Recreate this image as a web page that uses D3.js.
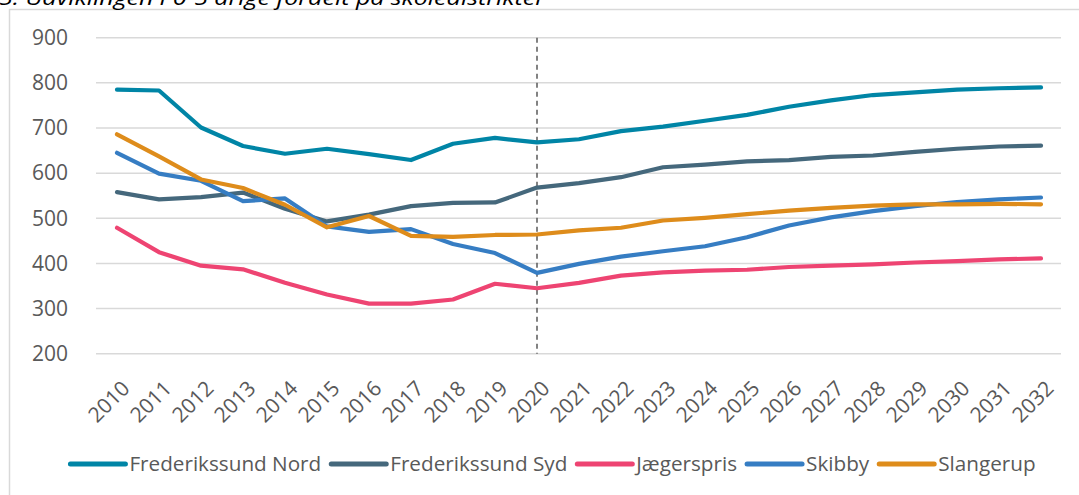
<!DOCTYPE html>
<html>
<head>
<meta charset="utf-8">
<script src="https://cdn.jsdelivr.net/npm/d3@7"></script>
<style>
  html, body { margin: 0; padding: 0; background: #fff; }
  svg { display: block; }
  text { font-family: "Open Sans", sans-serif; }
</style>
</head>
<body>
<svg id="chart" width="1079" height="495"></svg>
<script>
const titleText = "5. Udviklingen i 0-5 årige fordelt på skoledistrikter";
const years = ["2010","2011","2012","2013","2014","2015","2016","2017","2018","2019","2020","2021","2022","2023","2024","2025","2026","2027","2028","2029","2030","2031","2032"];
const yTicks = [200, 300, 400, 500, 600, 700, 800, 900];
const seriesNames = ["Frederikssund Nord", "Frederikssund Syd", "Jægerspris", "Skibby", "Slangerup"];
const seriesColors = ["#0085a6", "#45687c", "#ee4472", "#367dc3", "#de8c1b"];
const frederikssundNord = [785, 783, 701, 660, 643, 654, 642, 629, 665, 678, 668, 675, 693, 703, 716, 729, 747, 761, 773, 779, 785, 788, 790];
const frederikssundSyd  = [558, 542, 547, 557, 521, 493, 508, 527, 534, 535, 568, 578, 591, 613, 619, 626, 629, 636, 639, 647, 654, 659, 661];
const jaegerspris       = [479, 425, 395, 387, 357, 331, 311, 311, 320, 355, 345, 357, 373, 380, 384, 386, 392, 395, 398, 402, 405, 409, 411];
const skibby            = [645, 599, 583, 538, 544, 482, 470, 476, 443, 423, 379, 399, 415, 427, 438, 458, 484, 502, 516, 527, 536, 542, 546];
const slangerup         = [686, 637, 586, 567, 530, 480, 505, 461, 459, 463, 464, 473, 479, 495, 501, 509, 517, 523, 528, 531, 531, 532, 531];
const forecastStart = "2020";

const seriesValues = [frederikssundNord, frederikssundSyd, jaegerspris, skibby, slangerup];
const series = seriesNames.map((name, i) => ({ name, color: seriesColors[i], values: seriesValues[i] }));

const svg = d3.select("#chart");
const W = 1079, H = 495;
const plot = { left: 96, right: 1062, top: 37.7, bottom: 353.7 };

// outer frame
svg.append("rect")
  .attr("x", 9.5).attr("y", 9.5)
  .attr("width", W + 20).attr("height", H + 20)
  .attr("fill", "none").attr("stroke", "#d9d9d9").attr("stroke-width", 1.5);

// title (partially cut off at the top, as in the source)
svg.append("text")
  .attr("x", -1).attr("y", 5)
  .attr("font-size", 20).attr("font-style", "italic").attr("fill", "#000")
  .attr("textLength", 546).attr("lengthAdjust", "spacingAndGlyphs")
  .text(titleText);

const x = d3.scaleBand().domain(years).range([plot.left, plot.right]).padding(0);
const y = d3.scaleLinear().domain([200, 900]).range([plot.bottom, plot.top]);
const cx = d => x(d) + x.bandwidth() / 2;

// gridlines
svg.append("g").selectAll("line").data(yTicks).join("line")
  .attr("x1", plot.left).attr("x2", 1061)
  .attr("y1", d => y(d)).attr("y2", d => y(d))
  .attr("stroke", "#d9d9d9").attr("stroke-width", 1.5);

// y axis labels
const yAxis = d3.axisLeft(y).tickValues(yTicks).tickSize(0).tickPadding(0).tickFormat(d3.format("d"));
const yg = svg.append("g").attr("transform", `translate(68,0)`).call(yAxis);
yg.select(".domain").remove();
yg.selectAll("text").attr("font-size", 21).attr("fill", "#595959")
  .attr("font-family", "Open Sans, sans-serif");

// x axis labels
const xAxis = d3.axisBottom(x).tickSize(0).tickPadding(0);
const xg = svg.append("g").attr("transform", `translate(0,${plot.bottom})`).call(xAxis);
xg.select(".domain").remove();
xg.selectAll("text")
  .attr("font-size", 21).attr("fill", "#595959")
  .attr("font-family", "Open Sans, sans-serif")
  .attr("text-anchor", "end")
  .attr("dy", 0)
  .attr("transform", "translate(14,36) rotate(-45)");

// forecast divider
svg.append("line")
  .attr("x1", cx(forecastStart)).attr("x2", cx(forecastStart))
  .attr("y1", plot.top).attr("y2", plot.bottom)
  .attr("stroke", "#595959").attr("stroke-width", 1.5).attr("stroke-dasharray", "5,4");

// lines
const line = d3.line().x((d, i) => cx(years[i])).y(d => y(d));
svg.append("g").selectAll("path").data(series).join("path")
  .attr("d", d => line(d.values))
  .attr("fill", "none").attr("stroke", d => d.color)
  .attr("stroke-width", 4.2).attr("stroke-linecap", "round").attr("stroke-linejoin", "round");

// legend
const legend = svg.append("g");
const items = legend.selectAll("g").data(series).join("g");
items.append("line")
  .attr("x1", 0).attr("x2", 55).attr("y1", 0).attr("y2", 0)
  .attr("stroke", d => d.color).attr("stroke-width", 5).attr("stroke-linecap", "round");
items.append("text")
  .attr("x", 59).attr("y", 7)
  .attr("font-size", 20.7).attr("fill", "#595959")
  .text(d => d.name);
let pos = 0;
const offsets = [];
items.each(function() {
  offsets.push(pos);
  const tw = d3.select(this).select("text").node().getComputedTextLength();
  pos += 59 + tw + 10;
});
const total = pos - 10;
const startX = 553 - total / 2;
items.attr("transform", (d, i) => `translate(${startX + offsets[i]},464)`);
</script>
</body>
</html>
